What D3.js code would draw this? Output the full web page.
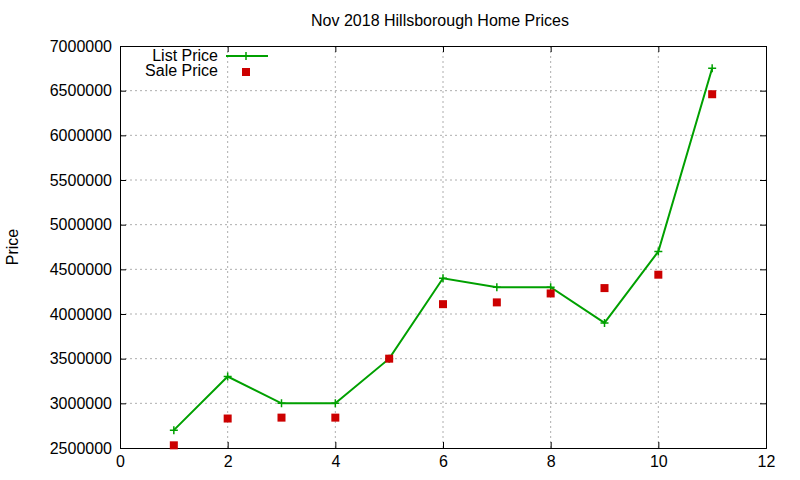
<!DOCTYPE html>
<html><head><meta charset="utf-8">
<script src="https://cdn.jsdelivr.net/npm/d3@7"></script>
<style>body{margin:0;background:#fff}text{font-family:"Liberation Sans",Arial,sans-serif}</style>
</head><body><svg id="chart"></svg>
<script>
const months = [1,2,3,4,5,6,7,8,9,10,11];
const listPrice = [2700000,3300000,3000000,3000000,3500000,4400000,4300000,4300000,3900000,4700000,6750000];
const salePrice = [2530000,2830000,2840000,2840000,3500000,4110000,4130000,4230000,4290000,4440000,6460000];
const xTicks = [0,2,4,6,8,10,12];
const yTicks = d3.range(2500000,7000001,500000);

const svgWidth=800, svgHeight=480;
const margin={top:46,right:34,bottom:32,left:120};
const width=svgWidth-margin.left-margin.right, height=svgHeight-margin.top-margin.bottom;
const svg=d3.select("#chart").attr("width",svgWidth).attr("height",svgHeight);
const g=svg.append("g").attr("transform",`translate(${margin.left},${margin.top})`);
const x=d3.scaleLinear().domain([0,12]).range([0,width]);
const y=d3.scaleLinear().domain([2500000,7000000]).range([height,0]);

// grid
g.selectAll(".gx").data(xTicks.slice(1,-1)).join("line")
  .attr("x1",d=>x(d)).attr("x2",d=>x(d)).attr("y1",0).attr("y2",height)
  .attr("stroke","#999").attr("stroke-dasharray","2,3").attr("stroke-width",0.8);
g.selectAll(".gy").data(yTicks.slice(1,-1)).join("line")
  .attr("y1",d=>y(d)).attr("y2",d=>y(d)).attr("x1",0).attr("x2",width)
  .attr("stroke","#999").attr("stroke-dasharray","2,3").attr("stroke-width",0.8);

g.append("g").attr("transform",`translate(0,${height})`)
  .call(d3.axisBottom(x).tickValues(xTicks).tickSize(-6).tickPadding(8).tickFormat(d3.format("d")));
g.append("g").call(d3.axisLeft(y).tickValues(yTicks).tickSize(-6).tickPadding(8).tickFormat(d3.format("d")));
g.append("g").call(d3.axisTop(x).tickValues(xTicks).tickSize(-6).tickFormat(""));
g.append("g").attr("transform",`translate(${width},0)`).call(d3.axisRight(y).tickValues(yTicks).tickSize(-6).tickFormat(""));
g.selectAll(".domain").attr("stroke","#000");
g.selectAll(".tick text").attr("font-size",16).attr("fill","#000");

const line=d3.line().x((d,i)=>x(months[i])).y(d=>y(d));
g.append("path").datum(listPrice).attr("d",line).attr("fill","none").attr("stroke","#00a000").attr("stroke-width",2);
const plus=(sel,px,py)=>sel.append("path").attr("d",`M${px-4},${py}H${px+4}M${px},${py-4}V${py+4}`).attr("stroke","#00a000").attr("stroke-width",1.5);
listPrice.forEach((d,i)=>plus(g,x(months[i]),y(d)));
g.selectAll(".sale").data(salePrice).join("rect")
  .attr("x",(d,i)=>x(months[i])-4).attr("y",d=>y(d)-4).attr("width",8).attr("height",8).attr("fill","#cc0000");

// legend
svg.append("line").attr("x1",226).attr("x2",268).attr("y1",56).attr("y2",56).attr("stroke","#00a000").attr("stroke-width",2);
plus(svg,246,56);
svg.append("text").attr("x",218).attr("y",61).attr("text-anchor","end").attr("font-size",16).text("List Price");
svg.append("text").attr("x",218).attr("y",76).attr("text-anchor","end").attr("font-size",16).text("Sale Price");
svg.append("rect").attr("x",242).attr("y",68).attr("width",8).attr("height",8).attr("fill","#cc0000");

svg.append("text").attr("x",440).attr("y",26).attr("text-anchor","middle").attr("font-size",16).text("Nov 2018 Hillsborough Home Prices");
svg.append("text").attr("transform","translate(18,247) rotate(-90)").attr("text-anchor","middle").attr("font-size",16).text("Price");
</script></body></html>
